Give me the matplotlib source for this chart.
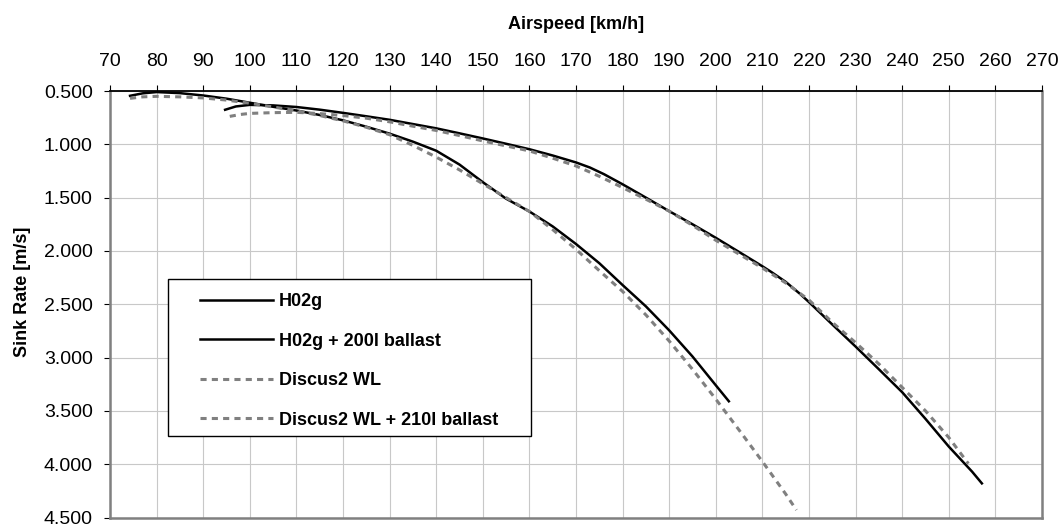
import matplotlib
matplotlib.use("Agg")
import matplotlib.pyplot as plt
import matplotlib.patches as patches
import numpy as np

plt.rcParams['font.family'] = ['Liberation Sans', 'DejaVu Sans']

# polar data: airspeed [km/h] -> sink rate [m/s]
h02g_speed = [74.3, 77, 80, 85, 90, 95, 100, 105, 110, 115, 120, 125, 130, 135, 140,
              145, 150, 155, 160, 165, 170, 175, 180, 185, 190, 195, 200, 202.8]
h02g_sink = [0.545, 0.522, 0.510, 0.520, 0.542, 0.572, 0.610, 0.648, 0.683, 0.725, 0.775,
             0.835, 0.900, 0.975, 1.060, 1.190, 1.355, 1.510, 1.630, 1.770, 1.935, 2.115,
             2.320, 2.520, 2.745, 2.990, 3.260, 3.410]

h02g_bal_speed = [94.7, 97, 100, 105, 110, 115, 120, 125, 130, 135, 140, 145, 150, 155,
                  160, 165, 170, 173, 176, 180, 185, 190, 195, 200, 205, 210, 212, 215,
                  218, 220, 225, 230, 235, 240, 245, 250, 255, 257.1]
h02g_bal_sink = [0.676, 0.645, 0.630, 0.635, 0.650, 0.675, 0.705, 0.737, 0.770, 0.810,
                 0.850, 0.897, 0.945, 0.995, 1.046, 1.105, 1.170, 1.218, 1.280, 1.375,
                 1.500, 1.627, 1.750, 1.877, 2.010, 2.144, 2.200, 2.290, 2.400, 2.480,
                 2.690, 2.897, 3.110, 3.325, 3.575, 3.835, 4.070, 4.180]

discus_speed = [74.3, 77, 80, 85, 90, 95, 100, 105, 110, 115, 120, 125, 130, 135, 140,
                145, 150, 155, 160, 165, 170, 175, 180, 185, 190, 195, 200, 205, 210,
                215, 217.3]
discus_sink = [0.569, 0.555, 0.550, 0.555, 0.565, 0.585, 0.615, 0.650, 0.685, 0.730,
               0.780, 0.840, 0.910, 1.010, 1.120, 1.240, 1.370, 1.500, 1.630, 1.800,
               1.985, 2.185, 2.380, 2.600, 2.845, 3.110, 3.390, 3.680, 3.975, 4.280, 4.430]

discus_bal_speed = [95.7, 98, 100, 105, 110, 115, 120, 125, 130, 135, 140, 145, 150, 155,
                    160, 165, 170, 175, 180, 185, 190, 195, 200, 205, 210, 215, 220, 225,
                    230, 235, 240, 245, 250, 254.2]
discus_bal_sink = [0.738, 0.720, 0.710, 0.703, 0.700, 0.712, 0.730, 0.755, 0.789, 0.830,
                   0.870, 0.918, 0.968, 1.015, 1.062, 1.130, 1.203, 1.300, 1.406, 1.515,
                   1.627, 1.760, 1.900, 2.030, 2.160, 2.300, 2.460, 2.670, 2.860, 3.060,
                   3.280, 3.500, 3.750, 3.995]

labels = ["H02g", "H02g + 200l ballast", "Discus2 WL", "Discus2 WL + 210l ballast"]
x_ticks = np.arange(70, 271, 10)
y_ticks = np.arange(0.5, 4.51, 0.5)

fig = plt.figure(figsize=(10.64, 5.29), dpi=100)
ax = fig.add_axes([110 / 1064, 11.5 / 529, 932 / 1064, 426.5 / 529])

ax.plot(h02g_speed, h02g_sink, color='black', lw=1.8, label=labels[0])
ax.plot(h02g_bal_speed, h02g_bal_sink, color='black', lw=1.8, label=labels[1])
ax.plot(discus_speed, discus_sink, color='#808080', lw=2.2, dashes=(2.0, 1.7), label=labels[2])
ax.plot(discus_bal_speed, discus_bal_sink, color='#808080', lw=2.2, dashes=(2.0, 1.7), label=labels[3])

ax.set_xlim(70, 270)
ax.set_ylim(4.5, 0.5)
ax.set_xticks(x_ticks)
ax.set_yticks(y_ticks)
ax.set_yticklabels(["%.3f" % v for v in y_ticks])

ax.xaxis.tick_top()
ax.xaxis.set_label_position('top')
ax.tick_params(axis='x', direction='out', length=4, width=0.8, pad=11, labelsize=14)
ax.tick_params(axis='y', direction='out', length=4, width=0.8, pad=8.5, labelsize=14)

ax.grid(True, color='#c8c8c8', lw=0.8)
ax.set_axisbelow(True)

ax.spines['top'].set_color('black')
ax.spines['top'].set_linewidth(1.3)
for side in ['left', 'right', 'bottom']:
    ax.spines[side].set_color('#808080')
    ax.spines[side].set_linewidth(1.8)

ax.set_xlabel("Airspeed [km/h]", fontsize=13, fontweight='bold')
ax.xaxis.set_label_coords(0.5, 1.145)
ax.set_ylabel("Sink Rate [m/s]", fontsize=13, fontweight='bold')
ax.yaxis.set_label_coords(-0.085, 0.53)

# legend box drawn separately (Excel-style padding)
box = patches.Rectangle((168 / 1064, 1 - 436 / 529), 363 / 1064, 157 / 529,
                        transform=fig.transFigure, facecolor='white', edgecolor='black',
                        lw=1.0, zorder=3, clip_on=False)
ax.add_patch(box)

leg = ax.legend(loc='upper left', bbox_to_anchor=(200 / 1064, 1 - 293 / 529),
                bbox_transform=fig.transFigure, frameon=False, borderpad=0,
                borderaxespad=0, handlelength=4.04, handletextpad=0.33,
                labelspacing=1.25, prop={'size': 13, 'weight': 'bold'})
leg.set_zorder(5)

fig.savefig("out.png", dpi=100)
